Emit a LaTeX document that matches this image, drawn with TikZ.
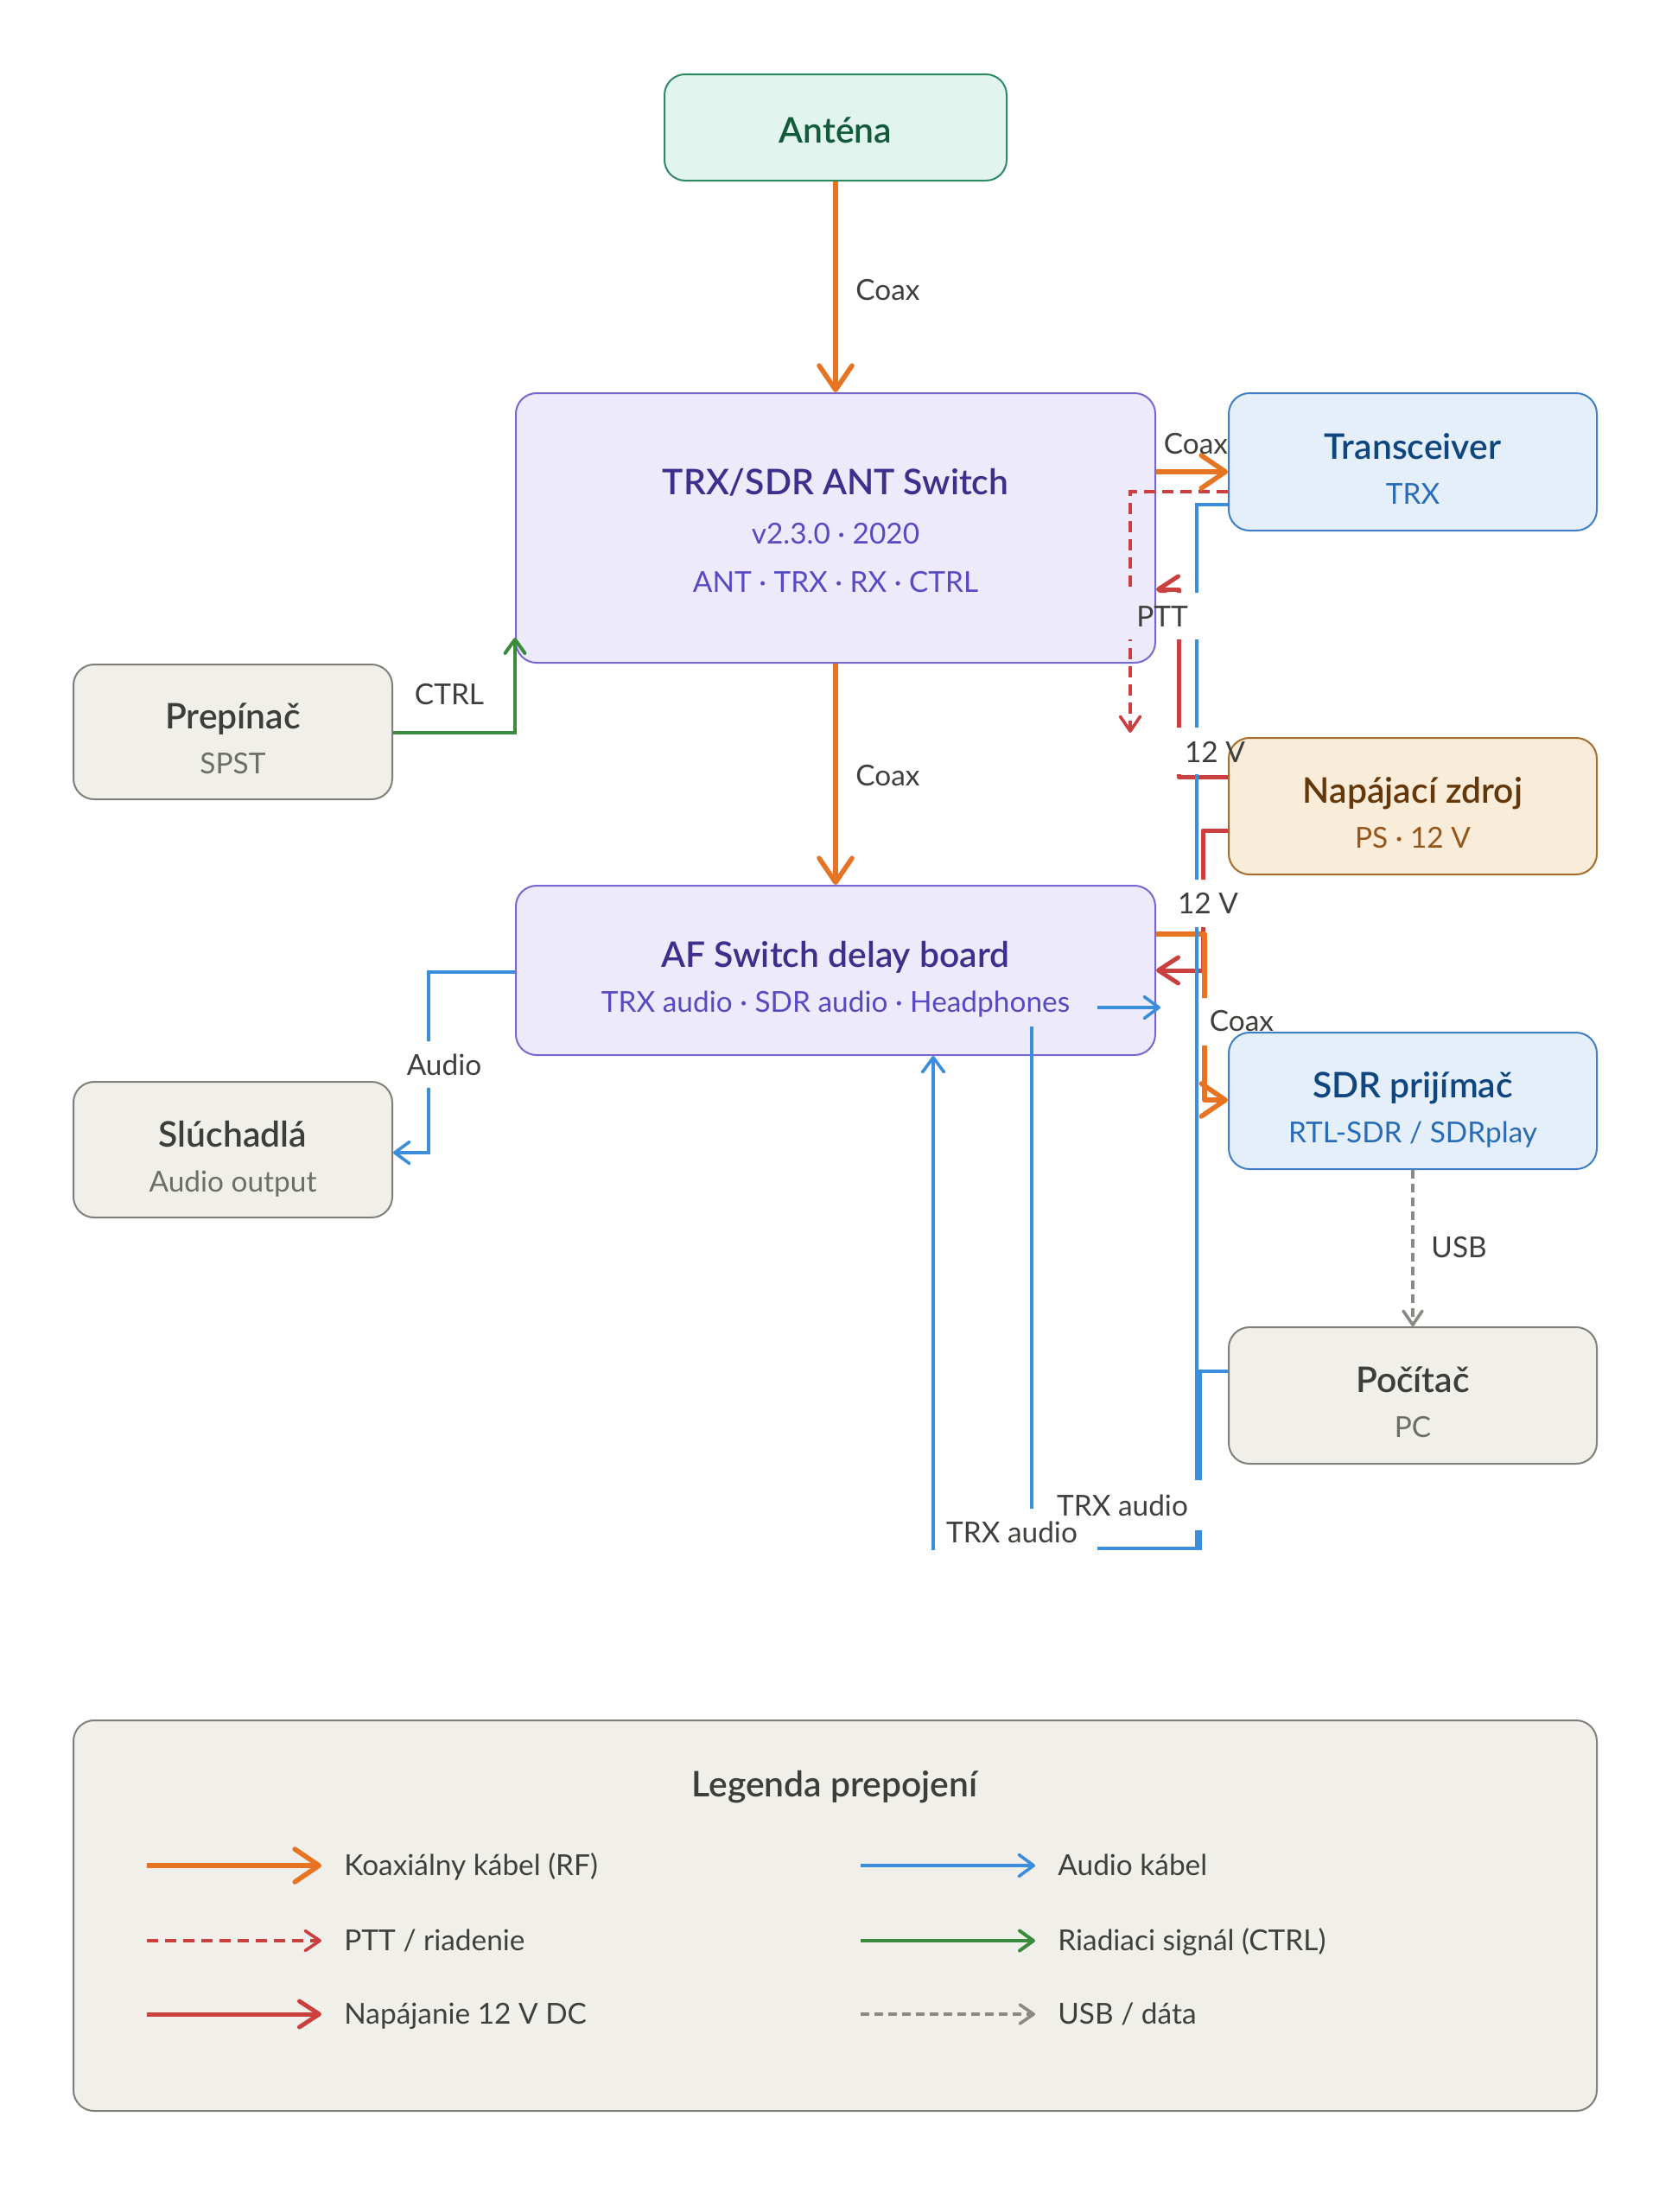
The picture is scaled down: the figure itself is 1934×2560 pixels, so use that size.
\documentclass[tikz,border=0pt]{standalone}
\usepackage{fontspec}
\setmainfont{Lato}[BoldFont={Lato Semibold}]
\usetikzlibrary{arrows.meta}
\definecolor{cOr}{RGB}{230,116,34}
\definecolor{cRd}{RGB}{201,64,63}
\definecolor{cBl}{RGB}{59,142,219}
\definecolor{cGn}{RGB}{59,139,63}
\definecolor{cGy}{RGB}{138,137,132}
\definecolor{cLbl}{RGB}{63,63,60}
\definecolor{antF}{RGB}{225,244,237}
\definecolor{antD}{RGB}{45,138,99}
\definecolor{antT}{RGB}{18,90,60}
\definecolor{swF}{RGB}{237,235,251}
\definecolor{swD}{RGB}{118,103,211}
\definecolor{swT}{RGB}{60,48,140}
\definecolor{swS}{RGB}{88,74,194}
\definecolor{blF}{RGB}{228,239,250}
\definecolor{blD}{RGB}{62,126,198}
\definecolor{blT}{RGB}{16,70,128}
\definecolor{blS}{RGB}{40,108,184}
\definecolor{psF}{RGB}{249,236,217}
\definecolor{psD}{RGB}{165,108,43}
\definecolor{psT}{RGB}{100,56,10}
\definecolor{psS}{RGB}{150,85,25}
\definecolor{gyF}{RGB}{241,239,233}
\definecolor{gyD}{RGB}{128,127,122}
\definecolor{gyT}{RGB}{61,61,58}
\definecolor{gyS}{RGB}{110,110,105}
\begin{document}
\begin{tikzpicture}[x=0.5pt,y=-0.5pt,
  box/.style={draw, rounded corners=12pt, line width=1pt, inner sep=0pt},
  ttl/.style={anchor=base, inner sep=0pt, font=\fontsize{20.4}{24}\selectfont\bfseries},
  sub/.style={anchor=base, inner sep=0pt, font=\fontsize{16.7}{20}\selectfont},
  lbl/.style={anchor=base, inner sep=0pt, text=cLbl, font=\fontsize{16.7}{20}\selectfont},
  coax/.style={draw=cOr, line width=2.8pt, line join=round, -{Straight Barb[round, length=14pt, width=19pt]}},
  power/.style={draw=cRd, line width=2.5pt, line join=round, -{Straight Barb[round, length=11.5pt, width=15pt]}},
  ptt/.style={draw=cRd, line width=1.8pt, dash pattern=on 6.5pt off 4pt, -{Straight Barb[round, length=8.5pt, width=11.5pt]}},
  audio/.style={draw=cBl, line width=1.8pt, -{Straight Barb[round, length=8.5pt, width=12.5pt]}},
  audiol/.style={draw=cBl, line width=1.8pt},
  ctrl/.style={draw=cGn, line width=2pt, -{Straight Barb[round, length=8pt, width=11.5pt]}},
  usb/.style={draw=cGy, line width=1.8pt, dash pattern=on 5pt off 3pt, -{Straight Barb[round, length=8pt, width=11pt]}}
]
\useasboundingbox (0,0) rectangle (1934,2560);
\fill[white] (0,0) rectangle (1934,2560);

% ---------- boxes ----------
\node[box, fill=antF, draw=antD, minimum width=198pt, minimum height=61.5pt] (ant) at (967,147.5) {};
\node[box, fill=swF, draw=swD, minimum width=370pt, minimum height=156pt] (sw) at (967,611) {};
\node[box, fill=blF, draw=blD, minimum width=213pt, minimum height=79.5pt] (trx) at (1635,534.5) {};
\node[box, fill=gyF, draw=gyD, minimum width=184.5pt, minimum height=78pt] (pre) at (269.5,847) {};
\node[box, fill=psF, draw=psD, minimum width=213pt, minimum height=79pt] (psu) at (1635,933) {};
\node[box, fill=swF, draw=swD, minimum width=370pt, minimum height=98pt] (af) at (967,1123) {};
\node[box, fill=blF, draw=blD, minimum width=213pt, minimum height=79pt] (sdr) at (1635,1274) {};
\node[box, fill=gyF, draw=gyD, minimum width=184.5pt, minimum height=78.5pt] (sl) at (269.5,1330.5) {};
\node[box, fill=gyF, draw=gyD, minimum width=213pt, minimum height=79pt] (pc) at (1635,1615) {};
\node[box, fill=gyF, draw=gyD, minimum width=881.5pt, minimum height=226pt] (leg) at (966.5,2217) {};

% ---------- box texts ----------
\node[ttl, text=antT] (antA) at (967,165) {Anténa};
\node[ttl, text=swT] (swA) at (967,572) {TRX/SDR ANT Switch};
\node[sub, text=swS] (swB) at (967,629) {v2.3.0 · 2020};
\node[sub, text=swS] (swC) at (967,685) {ANT · TRX · RX · CTRL};
\node[ttl, text=blT] (trxA) at (1635,531) {Transceiver};
\node[sub, text=blS] (trxB) at (1635,583) {TRX};
\node[ttl, text=gyT] (preA) at (269.5,843) {Prepínač};
\node[sub, text=gyS] (preB) at (269.5,895) {SPST};
\node[ttl, text=psT] (psuA) at (1635,929) {Napájací zdroj};
\node[sub, text=psS] (psuB) at (1635,981) {PS · 12 V};
\node[ttl, text=swT] (afA) at (967,1119) {AF Switch delay board};
\node[sub, text=swS] (afB) at (967,1171) {TRX audio · SDR audio · Headphones};
\node[ttl, text=blT] (sdrA) at (1635,1270) {SDR prijímač};
\node[sub, text=blS] (sdrB) at (1635,1322) {RTL-SDR / SDRplay};
\node[ttl, text=gyT] (slA) at (269.5,1327) {Slúchadlá};
\node[sub, text=gyS] (slB) at (269.5,1379) {Audio output};
\node[ttl, text=gyT] (pcA) at (1635,1611) {Počítač};
\node[sub, text=gyS] (pcB) at (1635,1663) {PC};

% ---------- connector ends ----------
\coordinate (pttend) at (1308,848);
\coordinate (afin) at (1194,1188);
\coordinate (hpstart) at (1270,1166);

% ---------- connectors (cut where labels sit) ----------
\begin{scope}[even odd rule]
\clip (0,0) rectangle (1934,2560)
  (1298,686) rectangle (1394,740)
  (1360,842) rectangle (1450,896)
  (1360,1018) rectangle (1440,1073)
  (1389,1155) rectangle (1485,1210)
  (1210,1713) rectangle (1396,1771)
  (1082,1746) rectangle (1270,1802)
  (460,1205) rectangle (570,1259);
\draw[usb] (sdr.south) -- (pc.north);
\draw[ctrl] (pre.east |- 0,848) -| (sw.west |- 0,738);
\draw[ptt] (trx.west |- 0,569) -| (pttend);
\draw[power] (psu.west |- 0,899) -- ++(-57,0) |- (sw.east |- 0,682);
\draw[power] (psu.west |- 0,961) -- ++(-29,0) |- (af.east |- 0,1123);
\draw[coax] (ant.south) -- (sw.north);
\draw[coax] (sw.east |- 0,546) -- (trx.west |- 0,546);
\draw[coax] (sw.south) -- (af.north);
\draw[coax] (af.east |- 0,1081) -- ++(56,0) |- (sdr.west |- 0,1273);
\draw[audio] (af.west |- 0,1125) -- ++(-100,0) |- (sl.east |- 0,1334);
\draw[audio] (trx.west |- 0,584) -| (1385,1792) -| (af.south -| 1080,0);
\draw[audiol] (pc.west |- 0,1587) -| (1389,1792) -| (afin);
\draw[audio] (hpstart) -- ([xshift=2.5pt]af.east |- 0,1166);
\end{scope}

% ---------- connector labels ----------
\node[lbl, anchor=base west] (l1) at (990,347) {Coax};
\node[lbl] (l2) at (1384,525) {Coax};
\node[lbl, anchor=base west] (l3) at (990,909) {Coax};
\node[lbl] (l4) at (1345,725) {PTT};
\node[lbl] (l5) at (1406,882) {12 V};
\node[lbl] (l6) at (1398,1057) {12 V};
\node[lbl] (l7) at (1437,1193) {Coax};
\node[lbl] (l8) at (520,815) {CTRL};
\node[lbl] (l9) at (514,1244) {Audio};
\node[lbl, anchor=base west] (l10) at (1656,1455) {USB};
\node[lbl] (l11) at (1299,1754) {TRX audio};
\node[lbl] (l12) at (1171,1785) {TRX audio};

% ---------- legend ----------
\node[ttl, text=gyT] (legT) at (966,2079) {Legenda prepojení};
\node[lbl, anchor=base west] (lgA) at (398,2170) {Koaxiálny kábel (RF)};
\node[lbl, anchor=base west] (lgB) at (398,2257) {PTT / riadenie};
\node[lbl, anchor=base west] (lgC) at (398,2342) {Napájanie 12 V DC};
\node[lbl, anchor=base west] (lgD) at (1224,2170) {Audio kábel};
\node[lbl, anchor=base west] (lgE) at (1224,2257) {Riadiaci signál (CTRL)};
\node[lbl, anchor=base west] (lgF) at (1224,2342) {USB / dáta};
\coordinate (lsA) at (170,2159); \coordinate (leA) at (372,2159);
\coordinate (lsB) at (170,2246); \coordinate (leB) at (372,2246);
\coordinate (lsC) at (170,2331); \coordinate (leC) at (372,2331);
\coordinate (lsD) at (996,2159); \coordinate (leD) at (1198,2159);
\coordinate (lsE) at (996,2246); \coordinate (leE) at (1198,2246);
\coordinate (lsF) at (996,2331); \coordinate (leF) at (1198,2331);
\draw[coax] (lsA) -- (leA);
\draw[ptt] (lsB) -- (leB);
\draw[power] (lsC) -- (leC);
\draw[audio] (lsD) -- (leD);
\draw[ctrl] (lsE) -- (leE);
\draw[usb] (lsF) -- (leF);
\end{tikzpicture}
\end{document}
